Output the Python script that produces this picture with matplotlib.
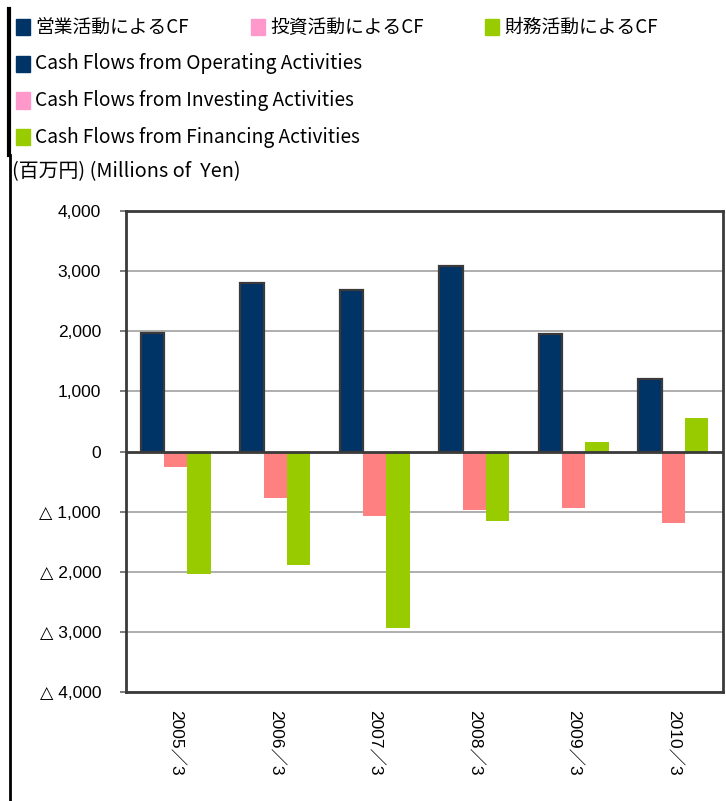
import matplotlib
matplotlib.use('Agg')
import matplotlib.pyplot as plt
import numpy as np

plt.rcParams['font.family'] = ['Noto Sans CJK JP', 'DejaVu Sans']

years = ['2005／3', '2006／3', '2007／3', '2008／3', '2009／3', '2010／3']
operating = [1965, 2810, 2680, 3080, 1958, 1210]
investing = [-250, -780, -1065, -965, -945, -1195]
financing = [-2045, -1895, -2930, -1160, 150, 560]

legend_jp = ['営業活動によるCF', '投資活動によるCF', '財務活動によるCF']
legend_en = ['Cash Flows from Operating Activities',
             'Cash Flows from Investing Activities',
             'Cash Flows from Financing Activities']
legend_colors = ['#003366', '#FF99CC', '#99CC00']
bar_colors = ['#003366', '#FF8080', '#99CC00']
unit_label = '(百万円) (Millions of  Yen)'

W, H = 726, 801
fig = plt.figure(figsize=(W / 100, H / 100), dpi=100)


def fx(px):
    return px / W


def fy(py):
    return 1 - py / H


num_font = ['Liberation Sans', 'Noto Sans CJK JP', 'DejaVu Sans']

ax = fig.add_axes([fx(126), fy(692), fx(723) - fx(126), fy(211) - fy(692)])

x = np.arange(len(years))
w = 0.235
ax.bar(x - w, operating, w, color=bar_colors[0], edgecolor='#3a3a3a', linewidth=1.6, zorder=3)
ax.bar(x, investing, w, color=bar_colors[1], zorder=3)
ax.bar(x + w, financing, w, color=bar_colors[2], zorder=3)

ax.set_xlim(-0.5, len(years) - 0.5)
ax.set_ylim(-4000, 4000)
yt = np.arange(-4000, 4001, 1000)
ax.set_yticks(yt)
labels = []
for v in yt:
    if v < 0:
        labels.append('△ {:,}'.format(-v))
    else:
        labels.append('{:,}'.format(v))
ax.set_yticklabels(labels, fontsize=12.5, family=['Liberation Sans', 'DejaVu Sans'])
for v in yt:
    if v != 0:
        ax.axhline(v, color='#999999', linewidth=1.1, zorder=1)
ax.axhline(0, color='#3a3a3a', linewidth=2, zorder=4)
ax.tick_params(axis='y', length=4, width=1.2, color='#666666', pad=14)

ax.set_xticks(x)
ax.set_xticklabels(years, rotation=270, fontsize=12.5, va='top', family=num_font)
ax.tick_params(axis='x', length=0, pad=13)
for s in ax.spines.values():
    s.set_color('#3a3a3a')
    s.set_linewidth(2)


# legend drawn as squares + text rows
def square(px, py, color):
    fig.add_artist(plt.Rectangle((fx(px), fy(py + 8)), fx(14), 16 / H,
                                 color=color, transform=fig.transFigure))


jp_x = [16, 251, 485]
for i in range(3):
    square(jp_x[i], 27, legend_colors[i])
    fig.text(fx(jp_x[i] + 19), fy(27), legend_jp[i], fontsize=13.5, va='center', ha='left')
for i in range(3):
    yy = 64 + i * 36.5
    square(16, yy, legend_colors[i])
    fig.text(fx(35), fy(yy), legend_en[i], fontsize=13.8, va='center', ha='left')
fig.text(fx(12), fy(172), unit_label, fontsize=14.3, va='center', ha='left')

# black bar on the left
fig.add_artist(plt.Line2D([fx(9), fx(9)], [fy(9), fy(155)], color='black', linewidth=3))
fig.add_artist(plt.Line2D([fx(9.5), fx(9.5)], [fy(155), fy(801)], color='black', linewidth=2))

fig.savefig('out.png', dpi=100)
plt.close()
